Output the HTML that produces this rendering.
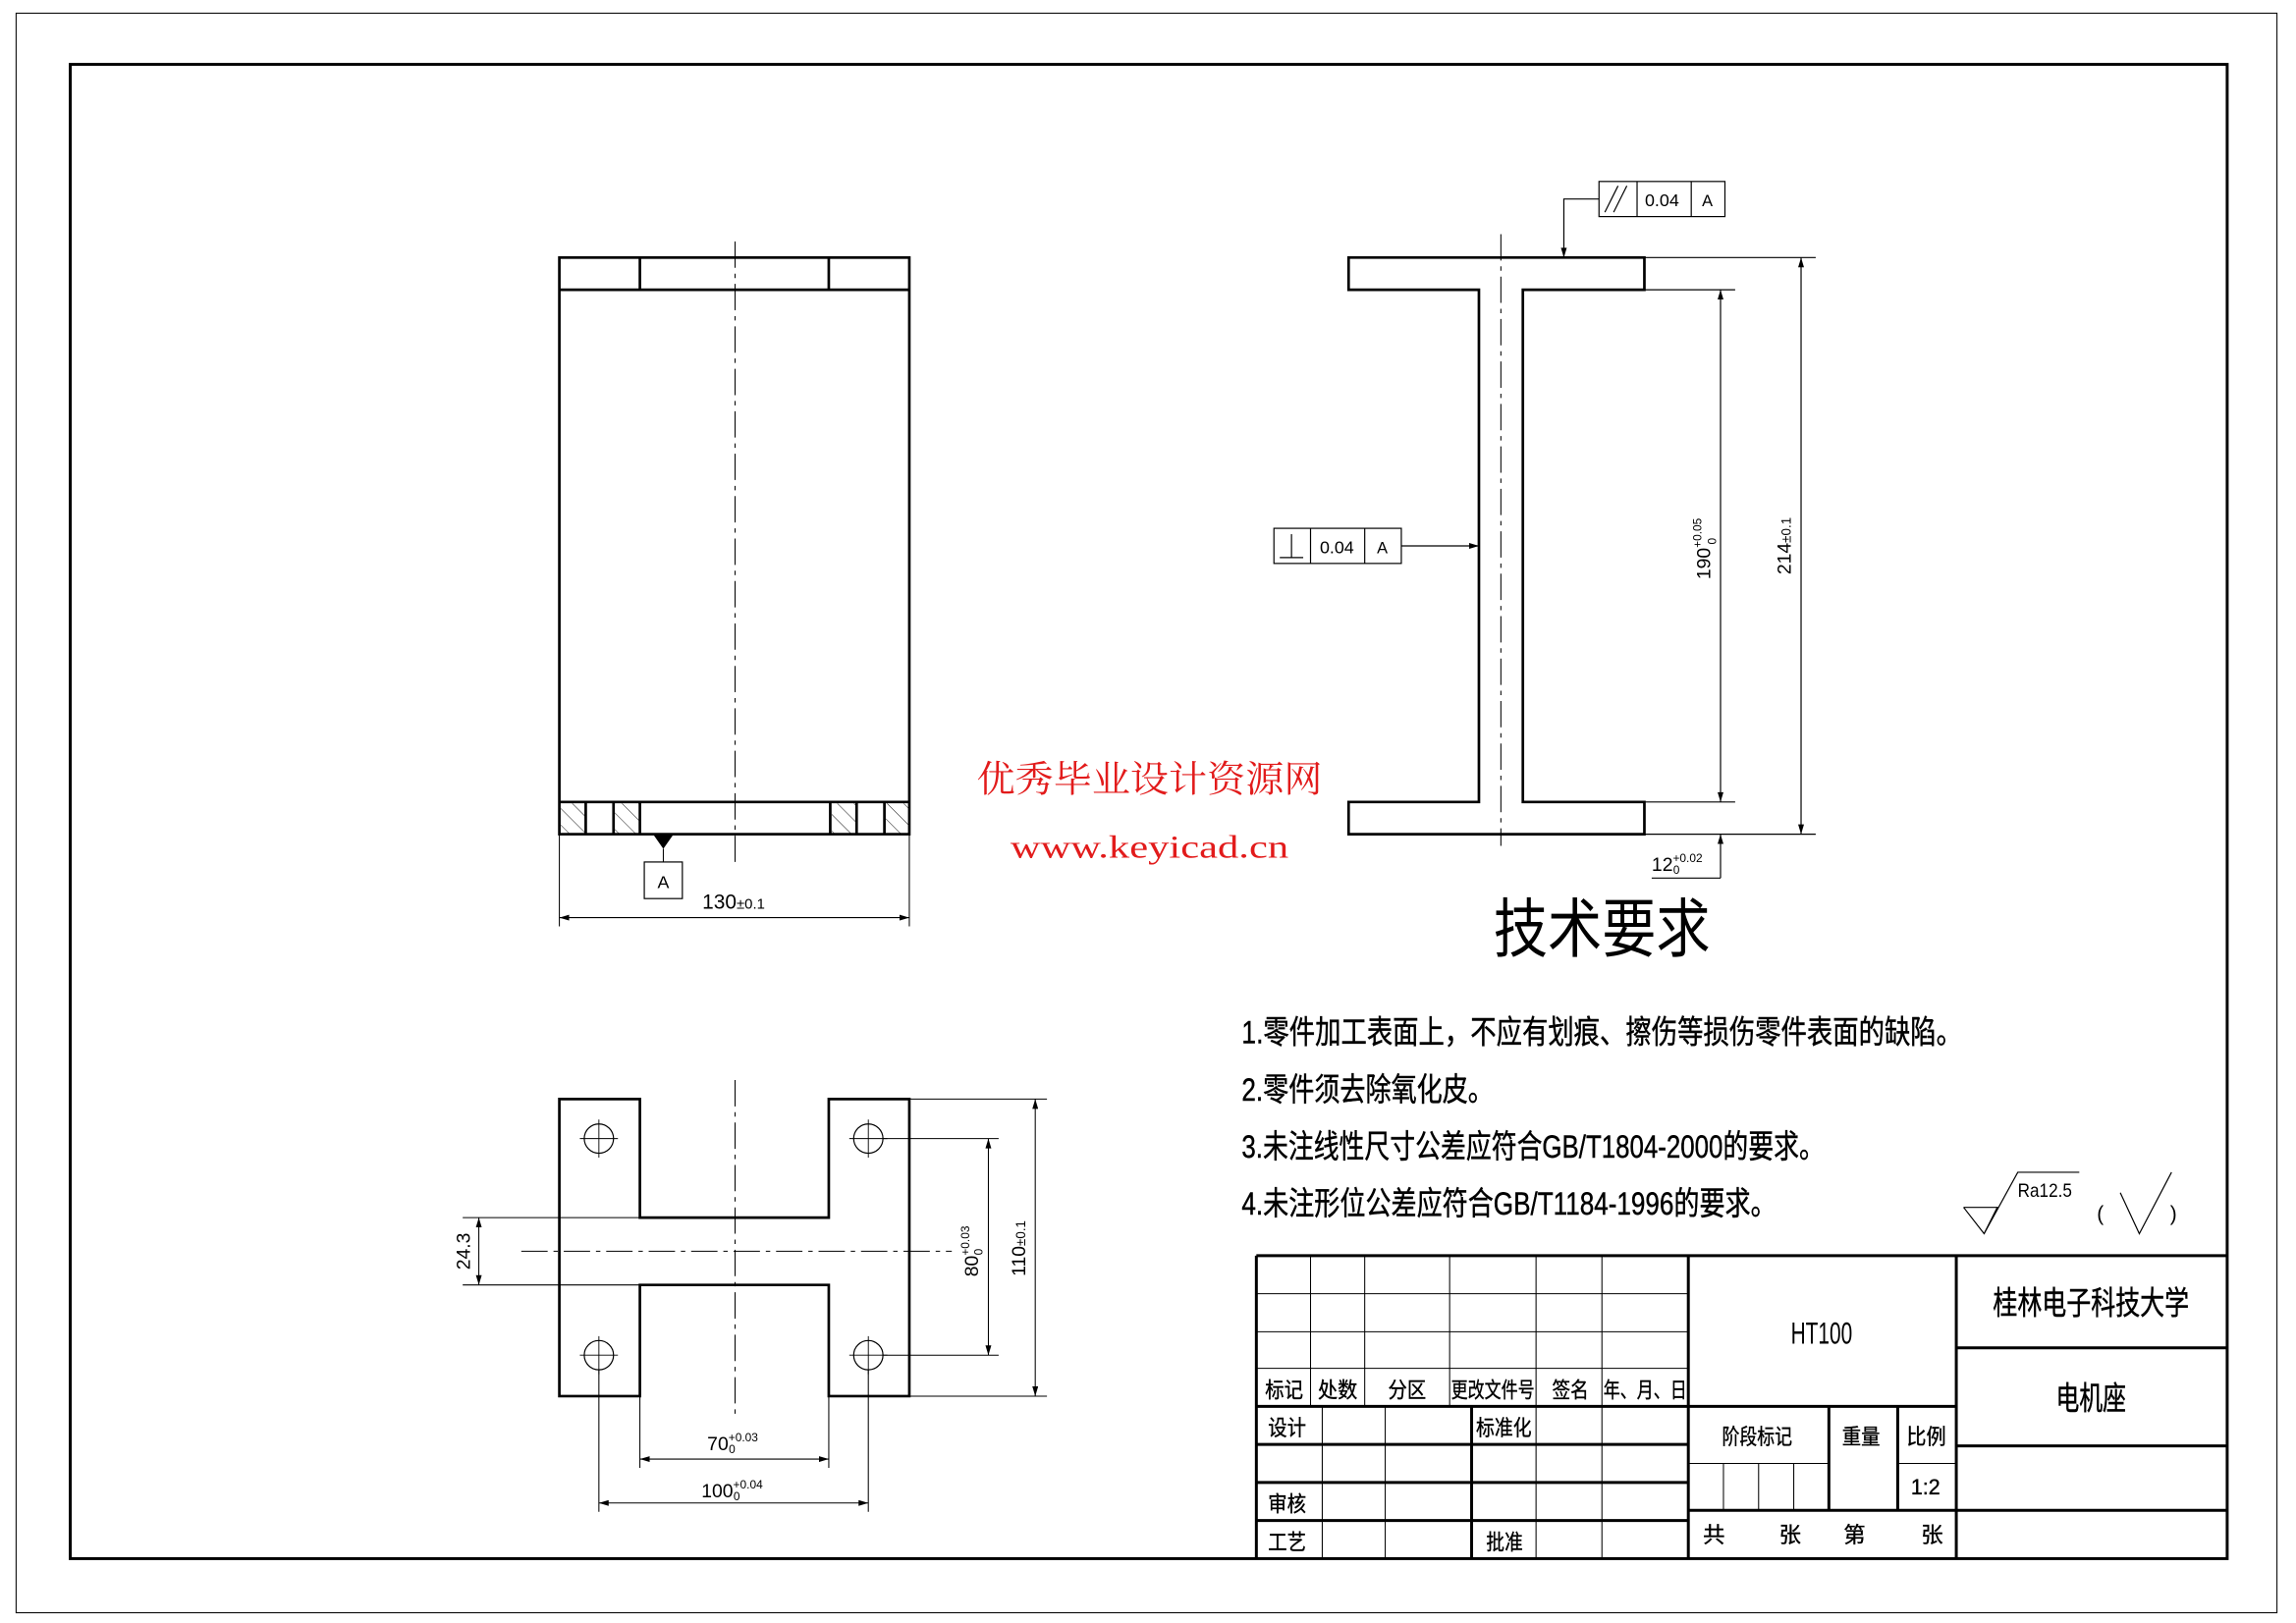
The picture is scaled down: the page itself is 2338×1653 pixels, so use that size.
<!DOCTYPE html>
<html><head><meta charset="utf-8"><style>
html,body{margin:0;padding:0;background:#fff;}
svg{display:block;}
text{font-family:"Liberation Sans","Noto Sans CJK SC",sans-serif;fill:#000;}
</style></head><body>
<svg width="2338" height="1653" viewBox="0 0 1568 1109" preserveAspectRatio="none" xmlns="http://www.w3.org/2000/svg">
<defs>
<marker id="ar" viewBox="0 0 10 6" refX="10" refY="3" markerWidth="10" markerHeight="4" orient="auto-start-reverse" markerUnits="userSpaceOnUse"><path d="M0,0L10,3L0,6z" fill="#000"/></marker>
<pattern id="hat" width="8" height="8" patternUnits="userSpaceOnUse" patternTransform="rotate(-45)"><line x1="0" y1="0" x2="0" y2="8" stroke="#000" stroke-width="0.6"/></pattern>
</defs>
<rect x="0" y="0" width="1568" height="1109" fill="#fff"/>
<rect x="11" y="9" width="1544" height="1093" fill="none" stroke="#000" stroke-width="0.7"/>
<rect x="48" y="44" width="1473" height="1021" fill="none" stroke="#000" stroke-width="2"/>

<!-- Front view -->
<g fill="none" stroke="#000" stroke-width="1.8">
<rect x="382" y="176" width="239" height="394"/>
<line x1="382" y1="198" x2="621" y2="198"/>
<line x1="437" y1="176" x2="437" y2="198"/>
<line x1="566" y1="176" x2="566" y2="198"/>
<line x1="382" y1="548" x2="621" y2="548"/>
<line x1="400" y1="548" x2="400" y2="570"/><line x1="419" y1="548" x2="419" y2="570"/><line x1="437" y1="548" x2="437" y2="570"/>
<line x1="567" y1="548" x2="567" y2="570"/><line x1="585" y1="548" x2="585" y2="570"/><line x1="604" y1="548" x2="604" y2="570"/>
</g>
<g stroke="none" fill="url(#hat)">
<rect x="383" y="549" width="17" height="21"/><rect x="420" y="549" width="17" height="21"/>
<rect x="568" y="549" width="17" height="21"/><rect x="605" y="549" width="16" height="21"/>
</g>
<line x1="502" y1="165" x2="502" y2="590" stroke="#000" stroke-width="0.7" stroke-dasharray="18,4,3,4"/>
<path d="M446,570L460,570L453,580z" fill="#000"/>
<line x1="453" y1="580" x2="453" y2="589" stroke="#000" stroke-width="0.7"/>
<rect x="440" y="589" width="26" height="25" fill="none" stroke="#000" stroke-width="0.8"/>
<text x="453" y="607" font-size="12" text-anchor="middle">A</text>
<g stroke="#000" stroke-width="0.7">
<line x1="382" y1="570" x2="382" y2="633"/><line x1="621" y1="570" x2="621" y2="633"/>
<line x1="382" y1="627" x2="621" y2="627" marker-start="url(#ar)" marker-end="url(#ar)"/>
</g>
<text x="501" y="621" font-size="14" text-anchor="middle">130<tspan font-size="10">±0.1</tspan></text>

<!-- I-beam view -->
<path d="M921,176L1123,176L1123,198L1040,198L1040,548L1123,548L1123,570L921,570L921,548L1010,548L1010,198L921,198z" fill="none" stroke="#000" stroke-width="1.8"/>
<line x1="1025" y1="160" x2="1025" y2="578" stroke="#000" stroke-width="0.7" stroke-dasharray="18,4,3,4"/>
<g fill="none" stroke="#000" stroke-width="0.8">
<rect x="1092" y="124" width="86" height="24"/><line x1="1118" y1="124" x2="1118" y2="148"/><line x1="1155" y1="124" x2="1155" y2="148"/>
<line x1="1096" y1="145" x2="1105" y2="127"/><line x1="1102" y1="145" x2="1111" y2="127"/>
<polyline points="1092,136 1068,136 1068,176" marker-end="url(#ar)"/>
<rect x="870" y="361" width="87" height="24"/><line x1="895" y1="361" x2="895" y2="385"/><line x1="932" y1="361" x2="932" y2="385"/>
<line x1="882" y1="365" x2="882" y2="381"/><line x1="874" y1="381" x2="890" y2="381"/>
<line x1="957" y1="373" x2="1010" y2="373" marker-end="url(#ar)"/>
<line x1="1040" y1="198" x2="1185" y2="198"/><line x1="1040" y1="548" x2="1185" y2="548"/>
<line x1="1175" y1="198" x2="1175" y2="548" marker-start="url(#ar)" marker-end="url(#ar)"/>
<line x1="1123" y1="176" x2="1240" y2="176"/><line x1="1123" y1="570" x2="1240" y2="570"/>
<line x1="1230" y1="176" x2="1230" y2="570" marker-start="url(#ar)" marker-end="url(#ar)"/>
<line x1="1175" y1="600" x2="1175" y2="570" marker-end="url(#ar)"/>
<line x1="1128" y1="600" x2="1175" y2="600"/>
</g>
<text x="1135" y="141" font-size="12" text-anchor="middle">0.04</text>
<text x="1166" y="141" font-size="11" text-anchor="middle">A</text>
<text x="913" y="378" font-size="12" text-anchor="middle">0.04</text>
<text x="944" y="378" font-size="11" text-anchor="middle">A</text>
<text transform="translate(1168,375) rotate(-90)" font-size="13" text-anchor="middle">190<tspan font-size="8" dy="-6">+0.05</tspan><tspan font-size="8" dx="-18" dy="10">0</tspan></text>
<text transform="translate(1223,373) rotate(-90)" font-size="13" text-anchor="middle">214<tspan font-size="9">±0.1</tspan></text>
<text x="1128" y="595" font-size="13">12<tspan font-size="8" dy="-6">+0.02</tspan><tspan font-size="8" dx="-20" dy="8">0</tspan></text>

<!-- Watermark -->
<text x="785" y="541" font-size="25" style="fill:#e21b1b;font-family:'Noto Serif CJK SC','Liberation Serif',serif" text-anchor="middle" textLength="236" lengthAdjust="spacingAndGlyphs">优秀毕业设计资源网</text>
<text x="785" y="586" font-size="22" style="fill:#e21b1b;font-family:'Liberation Serif',serif" text-anchor="middle" textLength="190" lengthAdjust="spacingAndGlyphs">www.keyicad.cn</text>

<!-- Tech requirements -->
<text x="1020" y="650" font-size="44" textLength="148" lengthAdjust="spacingAndGlyphs">技术要求</text>
<g font-size="22" style="stroke:#000;stroke-width:0.3">
<text x="848" y="713" textLength="492" lengthAdjust="spacingAndGlyphs">1.零件加工表面上，不应有划痕、擦伤等损伤零件表面的缺陷。</text>
<text x="848" y="752" textLength="172" lengthAdjust="spacingAndGlyphs">2.零件须去除氧化皮。</text>
<text x="848" y="791" textLength="398" lengthAdjust="spacingAndGlyphs">3.未注线性尺寸公差应符合GB/T1804-2000的要求。</text>
<text x="848" y="830" textLength="365" lengthAdjust="spacingAndGlyphs">4.未注形位公差应符合GB/T1184-1996的要求。</text>
</g>
<g fill="none" stroke="#000" stroke-width="0.8">
<polyline points="1341,825 1364,825 1355,843 1341,825"/>
<polyline points="1355,843 1378,801 1420,801"/>
<polyline points="1448,815 1461,843 1483,801"/>
</g>
<text x="1378" y="818" font-size="13" textLength="37" lengthAdjust="spacingAndGlyphs">Ra12.5</text>
<text x="1432" y="834" font-size="14">(</text><text x="1482" y="834" font-size="14">)</text>

<!-- Bottom view -->
<path d="M382,751L437,751L437,832L566,832L566,751L621,751L621,954L566,954L566,878L437,878L437,954L382,954z" fill="none" stroke="#000" stroke-width="1.8"/>
<g fill="none" stroke="#000" stroke-width="0.8">
<circle cx="409" cy="778" r="10"/><circle cx="593" cy="778" r="10"/><circle cx="409" cy="926" r="10"/><circle cx="593" cy="926" r="10"/>
<path d="M396,778H422M409,765V791M580,778H606M593,765V791M396,926H422M409,913V939M580,926H606M593,913V939" stroke-width="0.6"/>
</g>
<g stroke="#000" stroke-width="0.7" stroke-dasharray="18,4,3,4">
<line x1="502" y1="738" x2="502" y2="966"/><line x1="356" y1="855" x2="650" y2="855"/>
</g>
<g fill="none" stroke="#000" stroke-width="0.7">
<line x1="621" y1="751" x2="715" y2="751"/><line x1="621" y1="954" x2="715" y2="954"/>
<line x1="707" y1="751" x2="707" y2="954" marker-start="url(#ar)" marker-end="url(#ar)"/>
<line x1="603" y1="778" x2="682" y2="778"/><line x1="603" y1="926" x2="682" y2="926"/>
<line x1="675" y1="778" x2="675" y2="926" marker-start="url(#ar)" marker-end="url(#ar)"/>
<line x1="437" y1="832" x2="316" y2="832"/><line x1="437" y1="878" x2="316" y2="878"/>
<line x1="327" y1="832" x2="327" y2="878" marker-start="url(#ar)" marker-end="url(#ar)"/>
<line x1="437" y1="954" x2="437" y2="1003"/><line x1="566" y1="954" x2="566" y2="1003"/>
<line x1="437" y1="997" x2="566" y2="997" marker-start="url(#ar)" marker-end="url(#ar)"/>
<line x1="409" y1="936" x2="409" y2="1033"/><line x1="593" y1="936" x2="593" y2="1033"/>
<line x1="409" y1="1027" x2="593" y2="1027" marker-start="url(#ar)" marker-end="url(#ar)"/>
</g>
<text transform="translate(700,853) rotate(-90)" font-size="13" text-anchor="middle">110<tspan font-size="9">±0.1</tspan></text>
<text transform="translate(668,855) rotate(-90)" font-size="13" text-anchor="middle">80<tspan font-size="8" dy="-6">+0.03</tspan><tspan font-size="8" dx="-20" dy="9">0</tspan></text>
<text transform="translate(321,855) rotate(-90)" font-size="13" text-anchor="middle">24.3</text>
<text x="483" y="991" font-size="13">70<tspan font-size="8" dy="-6">+0.03</tspan><tspan font-size="8" dx="-20" dy="8">0</tspan></text>
<text x="479" y="1023" font-size="13">100<tspan font-size="8" dy="-6">+0.04</tspan><tspan font-size="8" dx="-20" dy="8">0</tspan></text>

<!-- Title block -->
<g fill="none" stroke="#000" stroke-width="0.7">
<line x1="858" y1="884" x2="1153" y2="884"/><line x1="858" y1="910" x2="1153" y2="910"/><line x1="858" y1="935" x2="1153" y2="935"/>
<line x1="895" y1="858" x2="895" y2="961"/><line x1="932" y1="858" x2="932" y2="961"/><line x1="990" y1="858" x2="990" y2="961"/>
<line x1="1049" y1="858" x2="1049" y2="1065"/><line x1="1094" y1="858" x2="1094" y2="1065"/>
<line x1="903" y1="961" x2="903" y2="1065"/><line x1="946" y1="961" x2="946" y2="1065"/>
<line x1="1153" y1="1000" x2="1249" y2="1000"/><line x1="1296" y1="1000" x2="1336" y2="1000"/>
<line x1="1177" y1="1000" x2="1177" y2="1032"/><line x1="1201" y1="1000" x2="1201" y2="1032"/><line x1="1225" y1="1000" x2="1225" y2="1032"/>
</g>
<g fill="none" stroke="#000" stroke-width="2">
<line x1="858" y1="858" x2="1521" y2="858"/>
<line x1="858" y1="858" x2="858" y2="1065"/>
<line x1="1153" y1="858" x2="1153" y2="1065"/>
<line x1="1336" y1="858" x2="1336" y2="1065"/>
<line x1="858" y1="961" x2="1336" y2="961"/>
<line x1="858" y1="987" x2="1153" y2="987"/><line x1="858" y1="1013" x2="1153" y2="1013"/><line x1="858" y1="1039" x2="1153" y2="1039"/>
<line x1="1005" y1="961" x2="1005" y2="1065"/>
<line x1="1249" y1="961" x2="1249" y2="1032"/><line x1="1296" y1="961" x2="1296" y2="1032"/>
<line x1="1153" y1="1032" x2="1521" y2="1032"/>
<line x1="1336" y1="921" x2="1521" y2="921"/><line x1="1336" y1="988" x2="1521" y2="988"/>
</g>
<g font-size="15" style="stroke:#000;stroke-width:0.25">
<text x="864" y="955" textLength="26" lengthAdjust="spacingAndGlyphs">标记</text>
<text x="900" y="955" textLength="27" lengthAdjust="spacingAndGlyphs">处数</text>
<text x="948" y="955" textLength="26" lengthAdjust="spacingAndGlyphs">分区</text>
<text x="991" y="955" textLength="57" lengthAdjust="spacingAndGlyphs">更改文件号</text>
<text x="1060" y="955" textLength="25" lengthAdjust="spacingAndGlyphs">签名</text>
<text x="1095" y="955" textLength="57" lengthAdjust="spacingAndGlyphs">年、月、日</text>
<text x="866" y="981" textLength="26" lengthAdjust="spacingAndGlyphs">设计</text>
<text x="1008" y="981" textLength="38" lengthAdjust="spacingAndGlyphs">标准化</text>
<text x="866" y="1033" textLength="26" lengthAdjust="spacingAndGlyphs">审核</text>
<text x="866" y="1059" textLength="26" lengthAdjust="spacingAndGlyphs">工艺</text>
<text x="1015" y="1059" textLength="25" lengthAdjust="spacingAndGlyphs">批准</text>
<text x="1176" y="987" textLength="48" lengthAdjust="spacingAndGlyphs">阶段标记</text>
<text x="1258" y="987" textLength="26" lengthAdjust="spacingAndGlyphs">重量</text>
<text x="1302" y="987" textLength="27" lengthAdjust="spacingAndGlyphs">比例</text>
<text x="1305" y="1021" textLength="20" lengthAdjust="spacingAndGlyphs">1:2</text>
<text x="1163" y="1054">共</text><text x="1215" y="1054">张</text><text x="1259" y="1054">第</text><text x="1312" y="1054">张</text>
</g>
<text x="1244" y="918" font-size="21" text-anchor="middle" textLength="42" lengthAdjust="spacingAndGlyphs">HT100</text>
<text x="1428" y="898" font-size="22" text-anchor="middle" textLength="134" lengthAdjust="spacingAndGlyphs" style="stroke:#000;stroke-width:0.3">桂林电子科技大学</text>
<text x="1428" y="963" font-size="22" text-anchor="middle" textLength="48" lengthAdjust="spacingAndGlyphs" style="stroke:#000;stroke-width:0.3">电机座</text>
</svg>
</body></html>
